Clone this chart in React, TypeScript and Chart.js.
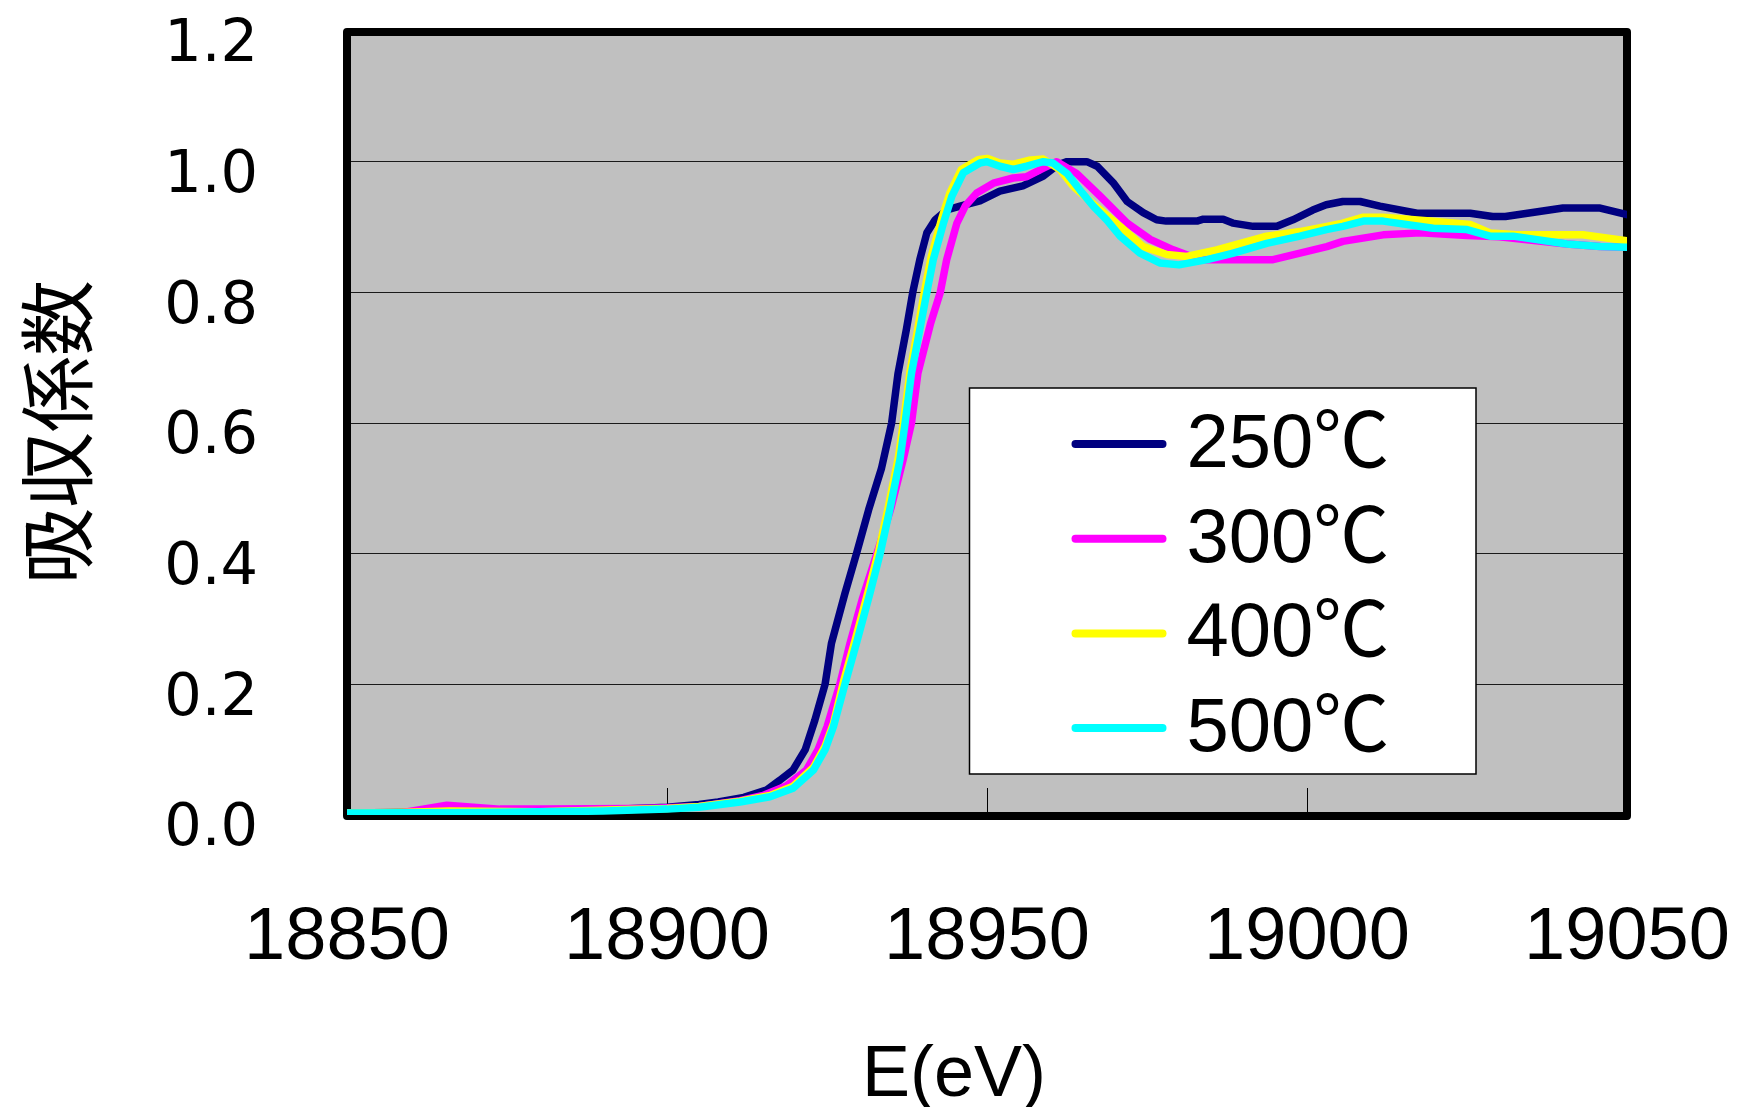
import { useEffect, useRef } from 'react';
import { Chart, registerables } from 'chart.js';

Chart.register(...registerables);

// ---- data ----
const X_MIN = 18850;
const X_MAX = 19050;
const X_STEP = 50;
const Y_MIN = 0;
const Y_MAX = 1.2;
const Y_STEP = 0.2;

const SERIES_LABELS = ['250℃', '300℃', '400℃', '500℃'];
const SERIES_COLORS = ['#000080', '#FF00FF', '#FFFF00', '#00FFFF'];

const E_250 = [18850, 18870, 18890, 18900, 18905, 18908, 18912, 18915.5, 18917.6, 18919.7, 18921.6, 18923.1, 18924.7, 18925.7, 18927.8, 18929.6, 18931.5, 18933.5, 18935.1, 18936.1, 18937.4, 18938.4, 18939.5, 18940.6, 18941.9, 18943.7, 18945.8, 18948.9, 18952, 18955.6, 18958.8, 18961, 18962.5, 18965.6, 18967.2, 18969.7, 18971.9, 18974.4, 18976.5, 18978, 18982.8, 18983.8, 18986.9, 18988.4, 18991.6, 18995.3, 18997.8, 19000.9, 19003, 19005.6, 19008.3, 19011.4, 19017.2, 19025.5, 19029, 19031, 19040, 19045.8, 19050];
const MU_250 = [0.003, 0.005, 0.008, 0.012, 0.016, 0.020, 0.027, 0.038, 0.053, 0.069, 0.100, 0.145, 0.200, 0.263, 0.339, 0.400, 0.467, 0.530, 0.600, 0.676, 0.743, 0.800, 0.850, 0.891, 0.911, 0.926, 0.932, 0.940, 0.955, 0.963, 0.978, 0.995, 1.000, 1.000, 0.993, 0.968, 0.939, 0.922, 0.911, 0.909, 0.909, 0.912, 0.912, 0.906, 0.901, 0.901, 0.911, 0.926, 0.934, 0.939, 0.939, 0.932, 0.921, 0.921, 0.916, 0.916, 0.929, 0.929, 0.919];

const E_300 = [18850, 18858.8, 18865.6, 18873.9, 18881, 18895, 18900, 18905, 18911.4, 18915, 18918.7, 18921.8, 18923.6, 18925, 18927, 18928.6, 18930.5, 18932.8, 18935, 18936.9, 18938.2, 18939.2, 18941.2, 18942.7, 18943.7, 18945.3, 18946.6, 18948.4, 18951, 18954.1, 18956.2, 18958.8, 18960.9, 18964, 18967.7, 18971.9, 18975.5, 18979.1, 18983.3, 18994.7, 18998.9, 19003.1, 19005.6, 19011.9, 19017.7, 19025, 19030, 19040.6, 19045.8, 19050];
const MU_300 = [0.003, 0.004, 0.015, 0.009, 0.009, 0.010, 0.011, 0.013, 0.022, 0.030, 0.045, 0.069, 0.100, 0.135, 0.200, 0.263, 0.330, 0.400, 0.470, 0.544, 0.600, 0.676, 0.753, 0.800, 0.850, 0.906, 0.932, 0.952, 0.967, 0.975, 0.977, 0.990, 1.000, 0.982, 0.947, 0.906, 0.881, 0.865, 0.850, 0.850, 0.860, 0.870, 0.878, 0.888, 0.891, 0.887, 0.885, 0.874, 0.870, 0.869];

const E_400 = [18850, 18858, 18866, 18880, 18900, 18905, 18911.4, 18916.1, 18919.7, 18922.9, 18924.7, 18926, 18927.6, 18929.4, 18931.5, 18933.1, 18934.6, 18936.2, 18937, 18938, 18940.3, 18941.3, 18942.9, 18944.2, 18946, 18948.6, 18950, 18952, 18954, 18956.5, 18958.8, 18961.4, 18963.5, 18967.7, 18970.8, 18974.4, 18978.1, 18981.2, 18985.9, 18993.7, 18998.9, 19003.1, 19005.6, 19008.8, 19011.9, 19019.7, 19025.5, 19028.6, 19032.8, 19043.1, 19050];
const MU_400 = [0.003, 0.004, 0.006, 0.005, 0.010, 0.013, 0.021, 0.030, 0.044, 0.073, 0.105, 0.140, 0.205, 0.268, 0.345, 0.405, 0.472, 0.550, 0.605, 0.680, 0.805, 0.855, 0.912, 0.952, 0.988, 1.003, 1.005, 0.998, 0.996, 1.002, 1.004, 0.988, 0.962, 0.926, 0.901, 0.870, 0.858, 0.855, 0.865, 0.886, 0.893, 0.901, 0.906, 0.915, 0.915, 0.909, 0.904, 0.891, 0.888, 0.888, 0.879];

const E_500 = [18850, 18870, 18890, 18900, 18905, 18911.4, 18916.1, 18919.7, 18922.9, 18924.7, 18926, 18927.8, 18929.6, 18931.7, 18933.3, 18934.8, 18936.4, 18937.2, 18938.2, 18940.6, 18941.6, 18943.2, 18944.5, 18946.3, 18948.9, 18950, 18952, 18954.1, 18956.2, 18958.8, 18960.3, 18962.5, 18964.5, 18966.6, 18968.7, 18970.8, 18973.9, 18977, 18980, 18984.4, 18988.5, 18993.7, 18998.9, 19003, 19005.6, 19008.8, 19011.9, 19019.7, 19025, 19028.6, 19032.2, 19040.6, 19045.8, 19050];
const MU_500 = [0.003, 0.004, 0.006, 0.009, 0.012, 0.020, 0.028, 0.041, 0.069, 0.100, 0.135, 0.200, 0.263, 0.339, 0.400, 0.467, 0.544, 0.600, 0.676, 0.800, 0.850, 0.906, 0.947, 0.983, 0.998, 1.000, 0.993, 0.988, 0.993, 1.000, 0.998, 0.982, 0.957, 0.932, 0.911, 0.886, 0.860, 0.845, 0.842, 0.850, 0.860, 0.875, 0.886, 0.896, 0.901, 0.909, 0.909, 0.898, 0.896, 0.886, 0.886, 0.874, 0.870, 0.869];

const SERIES_E = [E_250, E_300, E_400, E_500];
const SERIES_MU = [MU_250, MU_300, MU_400, MU_500];

const X_TITLE = 'E(eV)';
const Y_TITLE = '吸収係数';

const CANVAS_W = 1737;
const CANVAS_H = 1125;

const framePlugin = {
  id: 'frame',
  afterLayout(chart: any) {
    const xs: any = chart.scales.x;
    const ys: any = chart.scales.y;
    if (xs && !xs.__shifted) {
      const orig = xs.drawTitle.bind(xs);
      xs.drawTitle = () => {
        const c = chart.ctx;
        c.save();
        c.translate(-33, 0);
        orig();
        c.restore();
      };
      xs.__shifted = true;
    }
    if (ys && !ys.__shifted) {
      const orig = ys.drawTitle.bind(ys);
      ys.drawTitle = () => {
        const c = chart.ctx;
        c.save();
        c.translate(0, 9);
        orig();
        c.restore();
      };
      ys.__shifted = true;
    }
  },
  beforeDraw(chart: any) {
    const { ctx, chartArea: a } = chart;
    ctx.save();
    ctx.fillStyle = '#C0C0C0';
    ctx.fillRect(a.left, a.top, a.right - a.left, a.bottom - a.top);
    ctx.restore();
  },
  beforeDatasetsDraw(chart: any) {
    const { ctx, chartArea: a } = chart;
    ctx.save();
    ctx.strokeStyle = '#000';
    ctx.lineWidth = 8;
    ctx.lineJoin = 'round';
    ctx.strokeRect(a.left, a.top + 1, a.right - a.left, a.bottom - a.top);
    ctx.restore();
  },
  afterDatasetsDraw(chart: any) {
    const { ctx, chartArea: a } = chart;
    const bx = a.left + 622.5;
    const by = a.top + 357;
    const bw = 506.5;
    const bh = 386;
    ctx.save();
    ctx.fillStyle = '#FFFFFF';
    ctx.fillRect(bx, by, bw, bh);
    ctx.strokeStyle = '#000';
    ctx.lineWidth = 1.5;
    ctx.strokeRect(bx, by, bw, bh);
    const ds = chart.data.datasets;
    ds.forEach((d: any, i: number) => {
      const y = by + 56 + i * 94.7;
      ctx.strokeStyle = d.borderColor;
      ctx.lineWidth = 8;
      ctx.lineCap = 'round';
      ctx.beginPath();
      ctx.moveTo(bx + 106, y);
      ctx.lineTo(bx + 193, y);
      ctx.stroke();
      ctx.fillStyle = '#000';
      ctx.font = "76px 'Liberation Sans', 'Noto Sans CJK JP', sans-serif";
      ctx.textAlign = 'left';
      ctx.textBaseline = 'middle';
      ctx.fillText(d.label, bx + 217, y + 2);
    });
    ctx.restore();
  },
};

export default function App() {
  const ref = useRef<HTMLCanvasElement | null>(null);

  useEffect(() => {
    if (!ref.current) return;
    const datasets = SERIES_LABELS.map((label, i) => ({
      label,
      data: SERIES_E[i].map((x, k) => ({ x, y: SERIES_MU[i][k] })),
      borderColor: SERIES_COLORS[i],
      backgroundColor: SERIES_COLORS[i],
      borderWidth: 7.5,
      pointRadius: 0,
      tension: 0,
      fill: false,
      borderJoinStyle: 'round' as const,
      borderCapStyle: 'round' as const,
      order: SERIES_LABELS.length - i,
    }));

    const chart = new Chart(ref.current, {
      type: 'line',
      data: { datasets },
      options: {
        animation: false,
        responsive: false,
        maintainAspectRatio: false,
        layout: { padding: { top: 31, right: 110, left: 0, bottom: 0 } },
        plugins: { legend: { display: false }, tooltip: { enabled: false } },
        scales: {
          x: {
            type: 'linear',
            min: X_MIN,
            max: X_MAX,
            afterFit: (s: any) => {
              s.height = CANVAS_H - 815;
              s.paddingLeft = 0;
              s.paddingRight = 0;
            },
            ticks: {
              stepSize: X_STEP,
              padding: 106,
              color: '#000',
              maxRotation: 0,
              font: { family: "'Liberation Sans Narrow', 'Liberation Sans', sans-serif", size: 74 },
              callback: (v: any) => String(v),
            },
            grid: { drawOnChartArea: false, drawTicks: true, tickLength: -27, color: '#000', lineWidth: 1 },
            border: { display: false },
            title: {
              display: true,
              text: X_TITLE,
              color: '#000',
              padding: { top: 0, bottom: 6 },
              font: { family: "'Liberation Sans Narrow', 'Liberation Sans', sans-serif", size: 72 },
            },
          },
          y: {
            min: Y_MIN,
            max: Y_MAX,
            afterFit: (s: any) => {
              s.width = 347;
              s.paddingTop = 0;
              s.paddingBottom = 0;
            },
            ticks: {
              stepSize: Y_STEP,
              padding: 89,
              labelOffset: 15,
              color: '#000',
              font: { family: "'DejaVu Sans', sans-serif", size: 59 },
              callback: (v: any) => Number(v).toFixed(1),
            },
            grid: { drawTicks: false, color: '#1a1a1a', lineWidth: 1 },
            border: { display: false },
            title: {
              display: true,
              text: Y_TITLE,
              color: '#000',
              padding: { top: 12, bottom: 0 },
              font: { family: "'Noto Sans CJK JP', sans-serif", size: 76 },
            },
          },
        },
      },
      plugins: [framePlugin],
    });
    return () => chart.destroy();
  }, []);

  return (
    <div style={{ position: 'fixed', left: 0, top: 0, width: CANVAS_W, height: CANVAS_H, background: '#fff' }}>
      <canvas ref={ref} width={CANVAS_W} height={CANVAS_H} style={{ width: CANVAS_W, height: CANVAS_H, display: 'block' }} />
    </div>
  );
}
